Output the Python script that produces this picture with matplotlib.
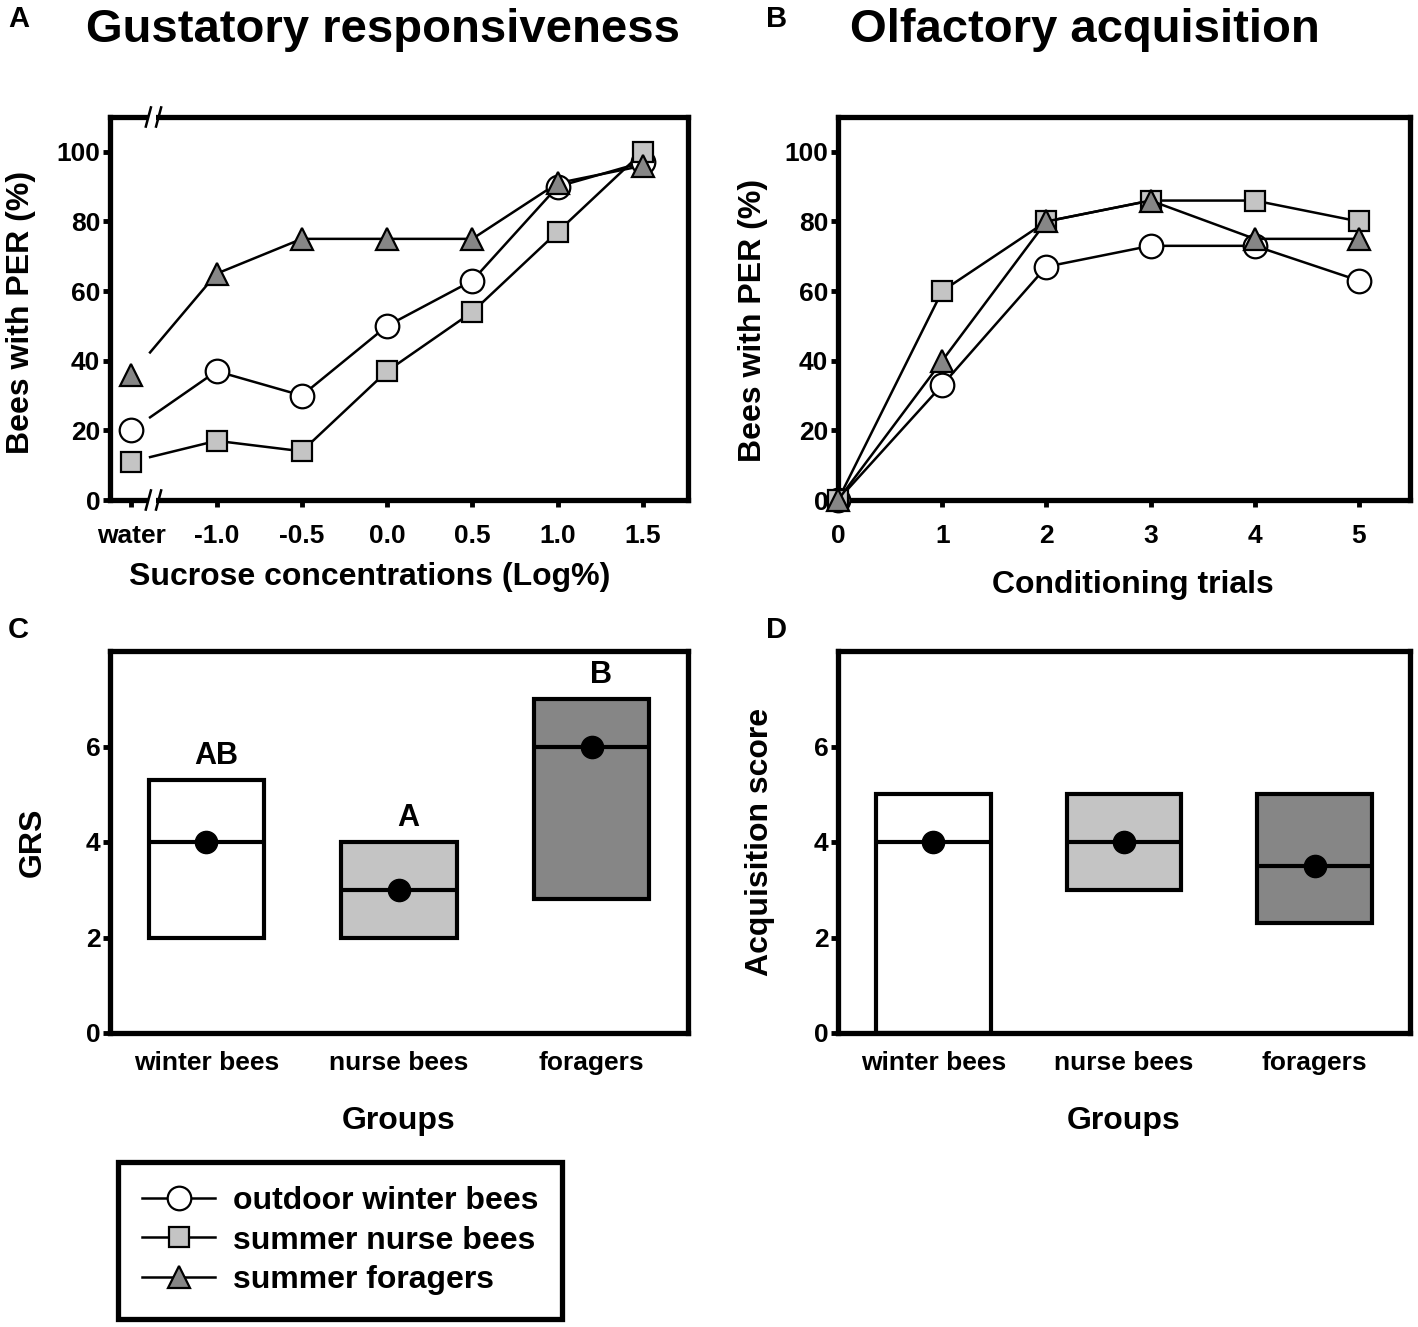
import numpy as np
import matplotlib
matplotlib.use("Agg")
import matplotlib.pyplot as plt
from matplotlib.lines import Line2D

plt.rcParams['font.family'] = ['Liberation Sans', 'DejaVu Sans']
plt.rcParams['font.weight'] = 'bold'
plt.rcParams['axes.labelweight'] = 'bold'

# ---- data ----
conc_labels = ["water", "-1.0", "-0.5", "0.0", "0.5", "1.0", "1.5"]
gus_winter = [20, 37, 30, 50, 63, 90, 97]
gus_nurse = [11, 17, 14, 37, 54, 77, 100]
gus_forager = [36, 65, 75, 75, 75, 91, 96]

trials = [0, 1, 2, 3, 4, 5]
acq_winter = [0, 33, 67, 73, 73, 63]
acq_nurse = [0, 60, 80, 86, 86, 80]
acq_forager = [0, 40, 80, 86, 75, 75]

groups = ["winter bees", "nurse bees", "foragers"]
grs_low = [2, 2, 2.8]
grs_high = [5.3, 4, 7]
grs_median = [4, 3, 6]
grs_letters = ["AB", "A", "B"]

acs_low = [0, 3, 2.3]
acs_high = [5, 5, 5]
acs_median = [4, 4, 3.5]

series_names = ["outdoor winter bees", "summer nurse bees", "summer foragers"]
fills = ["white", "#c4c4c4", "#868686"]
markers = ["o", "s", "^"]
msizes = [17, 15, 16]

W, H = 1418, 1327
fig = plt.figure(figsize=(W / 100, H / 100), dpi=100)


def frac(x0, y0, x1, y1):
    return [x0 / W, 1 - y1 / H, (x1 - x0) / W, (y1 - y0) / H]


def style(ax, xtick_len=5):
    for s in ax.spines.values():
        s.set_linewidth(3.8)
    ax.tick_params(axis='y', direction='out', length=5, width=3.5, pad=2, labelsize=19)
    ax.tick_params(axis='x', direction='out', length=xtick_len, width=3.5, pad=12, labelsize=19)


axA = fig.add_axes(frac(110, 117, 688, 500))
axB = fig.add_axes(frac(838, 117, 1410, 500))
axC = fig.add_axes(frac(110, 651, 688, 1033))
axD = fig.add_axes(frac(838, 651, 1410, 1033))

# ---- A: gustatory responsiveness ----
xa = np.arange(len(conc_labels))
gap = 0.22
for vals, fc, mk, ms in zip([gus_winter, gus_nurse, gus_forager], fills, markers, msizes):
    axA.plot(xa[1:], vals[1:], color='black', lw=1.8, zorder=2)
    y0 = vals[0] + gap * (vals[1] - vals[0])
    axA.plot([gap, 1], [y0, vals[1]], color='black', lw=1.8, zorder=2)
    axA.plot(xa, vals, linestyle='none', marker=mk, ms=ms, mfc=fc, mec='black', mew=1.6, zorder=3)
axA.set_xlim(-0.25, 6.53)
axA.set_ylim(0, 110)
axA.set_xticks(xa)
axA.set_xticklabels(conc_labels)
axA.set_yticks(range(0, 101, 20))
style(axA)
axA.set_ylabel("Bees with PER (%)", fontsize=23)
axA.yaxis.set_label_coords(-0.128, 0.49)
axA.set_xlabel("Sucrose concentrations (Log%)", fontsize=23)
axA.xaxis.set_label_coords(0.45, -0.162)

# axis break marks on top and bottom spines
for yb in (0, 1):
    axA.add_patch(plt.Rectangle((0.2, yb - 0.02), 0.09, 0.04, transform=axA.get_xaxis_transform(),
                                facecolor='white', edgecolor='none', clip_on=False, zorder=5))
    for xb in (0.17, 0.29):
        axA.plot([xb, xb + 0.06], [yb - 0.025, yb + 0.025], transform=axA.get_xaxis_transform(),
                 color='black', lw=1.8, clip_on=False, zorder=6)

# ---- B: olfactory acquisition ----
for vals, fc, mk, ms in zip([acq_winter, acq_nurse, acq_forager], fills, markers, msizes):
    axB.plot(trials, vals, color='black', lw=1.8, marker=mk, ms=ms, mfc=fc, mec='black', mew=1.6,
             clip_on=False, zorder=3)
axB.set_xlim(0, 5.49)
axB.set_ylim(0, 110)
axB.set_xticks(trials)
axB.set_yticks(range(0, 101, 20))
style(axB)
axB.set_ylabel("Bees with PER (%)", fontsize=23)
axB.yaxis.set_label_coords(-0.122, 0.47)
axB.set_xlabel("Conditioning trials", fontsize=23)
axB.xaxis.set_label_coords(0.516, -0.183)


# ---- C & D: box summaries ----
def boxes(ax, low, high, med):
    xg = np.arange(len(groups))
    ax.bar(xg, np.array(high) - np.array(low), bottom=low, width=0.6, color=fills,
           edgecolor='black', linewidth=3, zorder=2)
    ax.hlines(med, xg - 0.3, xg + 0.3, color='black', lw=3, zorder=3)
    ax.plot(xg, med, linestyle='none', marker='o', ms=16, color='black', zorder=4)
    ax.set_xlim(-0.5, 2.5)
    ax.set_ylim(0, 8)
    ax.set_xticks(xg)
    ax.set_xticklabels(groups)
    ax.set_yticks([0, 2, 4, 6])
    style(ax, xtick_len=0)
    ax.tick_params(axis='x', pad=13)
    ax.set_xlabel("Groups", fontsize=23)
    ax.xaxis.set_label_coords(0.5, -0.19)


boxes(axC, grs_low, grs_high, grs_median)
for i, (lab, top) in enumerate(zip(grs_letters, grs_high)):
    axC.text(i + 0.05, top + 0.18, lab, ha='center', va='bottom', fontsize=22)
axC.set_ylabel("GRS", fontsize=23)
axC.yaxis.set_label_coords(-0.107, 0.5)

boxes(axD, acs_low, acs_high, acs_median)
axD.set_ylabel("Acquisition score", fontsize=23)
axD.yaxis.set_label_coords(-0.11, 0.5)

# ---- titles & panel letters ----
fig.text(383 / W, 1 - 30 / H, "Gustatory responsiveness", ha='center', va='center', fontsize=34)
fig.text(1085 / W, 1 - 30 / H, "Olfactory acquisition", ha='center', va='center', fontsize=34)
for lab, x, y in [("A", 8, 19), ("B", 766, 19), ("C", 8, 630), ("D", 766, 630)]:
    fig.text(x / W, 1 - y / H, lab, ha='left', va='center', fontsize=21)

# ---- legend ----
handles = [Line2D([], [], color='black', lw=1.8, marker=mk, ms=ms, mfc=fc, mec='black', mew=1.6)
           for fc, mk, ms in zip(fills, markers, msizes)]
leg = fig.legend(handles, series_names, loc='upper left', bbox_to_anchor=(118 / W, 1 - 1162 / H),
                 fontsize=23, frameon=True, fancybox=False, framealpha=1, handlelength=2.3,
                 handletextpad=0.55, labelspacing=0.3, borderpad=0.75, borderaxespad=0, numpoints=1)
leg.get_frame().set_edgecolor('black')
leg.get_frame().set_linewidth(3.8)

fig.savefig("out.png", dpi=100)
